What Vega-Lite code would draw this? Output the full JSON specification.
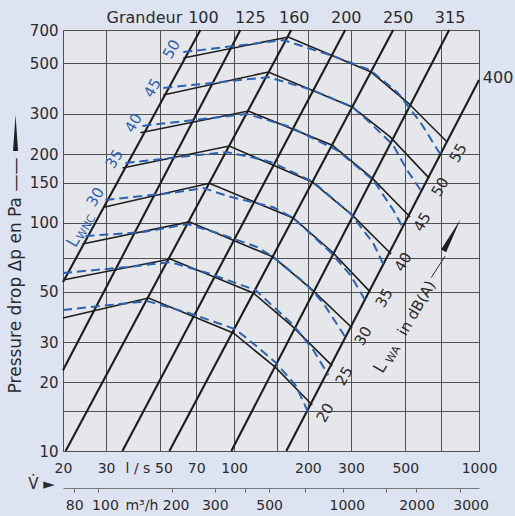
{
  "$schema": "https://vega.github.io/schema/vega-lite/v6.json",
  "width": 416,
  "height": 421,
  "autosize": {"type": "none"},
  "padding": {"left": 63, "top": 30, "right": 36, "bottom": 65},
  "background": "#dee3f2",
  "config": {
    "view": {"fill": "#e6e7eb", "stroke": "#555555", "strokeWidth": 1},
    "font": "DejaVu Sans"
  },
  "datasets": {
    "sizes": [
      {"g": "100", "V": 20, "dp": 55.0}, {"g": "100", "V": 72.8, "dp": 700},
      {"g": "125", "V": 20, "dp": 22.6}, {"g": "125", "V": 106.0, "dp": 700},
      {"g": "160", "V": 20.5, "dp": 10}, {"g": "160", "V": 171.1, "dp": 700},
      {"g": "200", "V": 34.97, "dp": 10}, {"g": "200", "V": 284.2, "dp": 700},
      {"g": "250", "V": 54.4, "dp": 10}, {"g": "250", "V": 446.1, "dp": 700},
      {"g": "315", "V": 97.4, "dp": 10}, {"g": "315", "V": 755.2, "dp": 700},
      {"g": "400", "V": 163.3, "dp": 10}, {"g": "400", "V": 1000, "dp": 422.5}
    ],
    "lwa": [
      {"c": 55, "V": 62.0, "dp": 528}, {"c": 55, "V": 166.4, "dp": 652}, {"c": 55, "V": 362.8, "dp": 458}, {"c": 55, "V": 513.6, "dp": 335}, {"c": 55, "V": 741, "dp": 226},
      {"c": 50, "V": 51.4, "dp": 363}, {"c": 50, "V": 137.9, "dp": 458}, {"c": 50, "V": 303.6, "dp": 322}, {"c": 50, "V": 433.8, "dp": 238}, {"c": 50, "V": 625.6, "dp": 157},
      {"c": 45, "V": 41.4, "dp": 248}, {"c": 45, "V": 114.2, "dp": 309}, {"c": 45, "V": 251.6, "dp": 219}, {"c": 45, "V": 366.2, "dp": 157}, {"c": 45, "V": 523.4, "dp": 106},
      {"c": 40, "V": 35.0, "dp": 174}, {"c": 40, "V": 95.5, "dp": 217}, {"c": 40, "V": 208.4, "dp": 151}, {"c": 40, "V": 303.6, "dp": 108}, {"c": 40, "V": 437.8, "dp": 73},
      {"c": 35, "V": 29.3, "dp": 117}, {"c": 35, "V": 79.2, "dp": 149}, {"c": 35, "V": 174.3, "dp": 105}, {"c": 35, "V": 251.6, "dp": 74.5}, {"c": 35, "V": 359.4, "dp": 49.8},
      {"c": 30, "V": 24.0, "dp": 80.8}, {"c": 30, "V": 65.6, "dp": 101}, {"c": 30, "V": 144.5, "dp": 70.8}, {"c": 30, "V": 208.4, "dp": 50.8}, {"c": 30, "V": 303.6, "dp": 34.6},
      {"c": 25, "V": 20, "dp": 56.2}, {"c": 25, "V": 54.9, "dp": 69.4}, {"c": 25, "V": 119.7, "dp": 49.3}, {"c": 25, "V": 174.3, "dp": 34.9}, {"c": 25, "V": 251.6, "dp": 23.6},
      {"c": 20, "V": 20, "dp": 38.3}, {"c": 20, "V": 44.7, "dp": 46.8}, {"c": 20, "V": 99.2, "dp": 32.9}, {"c": 20, "V": 147.2, "dp": 23.3}, {"c": 20, "V": 208.4, "dp": 15.9}
    ],
    "lwnc": [
      {"c": 50, "V": 62.0, "dp": 560}, {"c": 50, "V": 158.8, "dp": 632}, {"c": 50, "V": 254, "dp": 538}, {"c": 50, "V": 359.4, "dp": 467}, {"c": 50, "V": 463.3, "dp": 374}, {"c": 50, "V": 575, "dp": 277}, {"c": 50, "V": 707, "dp": 194},
      {"c": 45, "V": 51.4, "dp": 390}, {"c": 45, "V": 137.9, "dp": 435}, {"c": 45, "V": 208.4, "dp": 382}, {"c": 45, "V": 303.6, "dp": 322}, {"c": 45, "V": 349.4, "dp": 282}, {"c": 45, "V": 446.1, "dp": 219}, {"c": 45, "V": 508.8, "dp": 170}, {"c": 45, "V": 585.8, "dp": 136},
      {"c": 40, "V": 42.2, "dp": 266}, {"c": 40, "V": 68.1, "dp": 282}, {"c": 40, "V": 113.1, "dp": 300}, {"c": 40, "V": 169.5, "dp": 263}, {"c": 40, "V": 263.6, "dp": 208}, {"c": 40, "V": 369.7, "dp": 154}, {"c": 40, "V": 446.1, "dp": 114}, {"c": 40, "V": 490, "dp": 94.9},
      {"c": 35, "V": 36.0, "dp": 183}, {"c": 35, "V": 64.4, "dp": 196}, {"c": 35, "V": 93.8, "dp": 204}, {"c": 35, "V": 127.9, "dp": 190}, {"c": 35, "V": 144.5, "dp": 183}, {"c": 35, "V": 210.5, "dp": 151}, {"c": 35, "V": 297.9, "dp": 110}, {"c": 35, "V": 369.7, "dp": 81.6}, {"c": 35, "V": 410, "dp": 64.7},
      {"c": 30, "V": 29.8, "dp": 126}, {"c": 30, "V": 54.9, "dp": 135}, {"c": 30, "V": 74.9, "dp": 142}, {"c": 30, "V": 96.5, "dp": 130}, {"c": 30, "V": 144.5, "dp": 117}, {"c": 30, "V": 174.3, "dp": 105}, {"c": 30, "V": 246.9, "dp": 74.5}, {"c": 30, "V": 297.9, "dp": 59.1}, {"c": 30, "V": 346.2, "dp": 45.0},
      {"c": 25, "V": 24.7, "dp": 87.5}, {"c": 25, "V": 42.6, "dp": 91.1}, {"c": 25, "V": 64.4, "dp": 98.8}, {"c": 25, "V": 85.4, "dp": 90.2}, {"c": 25, "V": 124.3, "dp": 78.3}, {"c": 25, "V": 144.5, "dp": 70.8}, {"c": 25, "V": 198.9, "dp": 53.4}, {"c": 25, "V": 231.1, "dp": 44.5}, {"c": 25, "V": 284.2, "dp": 31.6},
      {"c": 20, "V": 20, "dp": 60.3}, {"c": 20, "V": 36.7, "dp": 64.0}, {"c": 20, "V": 54.9, "dp": 67.3}, {"c": 20, "V": 77.7, "dp": 60.3}, {"c": 20, "V": 122, "dp": 50.8}, {"c": 20, "V": 174.3, "dp": 35.7}, {"c": 20, "V": 210.5, "dp": 27.7}, {"c": 20, "V": 242.4, "dp": 21.5},
      {"c": 15, "V": 20, "dp": 41.5}, {"c": 15, "V": 44.2, "dp": 45.4}, {"c": 15, "V": 67.5, "dp": 39.8}, {"c": 15, "V": 101.1, "dp": 34.2}, {"c": 15, "V": 122, "dp": 29.1}, {"c": 15, "V": 147.2, "dp": 24.5}, {"c": 15, "V": 177.7, "dp": 19.5}, {"c": 15, "V": 200.7, "dp": 14.8}
    ],
    "toplabels": [
      {"t": "Grandeur", "V": 43.0, "dp": 793}, {"t": "100", "V": 74.9, "dp": 793}, {"t": "125", "V": 116.4, "dp": 793},
      {"t": "160", "V": 176, "dp": 793}, {"t": "200", "V": 287, "dp": 793}, {"t": "250", "V": 467.6, "dp": 793},
      {"t": "315", "V": 762, "dp": 793}, {"t": "400", "V": 1196, "dp": 431}
    ],
    "lab15": [
      {"t": "55", "k": "lwa", "V": 821.6, "dp": 202.2}, {"t": "50", "k": "lwa", "V": 693.8, "dp": 143.5},
      {"t": "45", "k": "lwa", "V": 586, "dp": 100.8}, {"t": "40", "k": "lwa", "V": 490, "dp": 67.3},
      {"t": "35", "k": "lwa", "V": 410, "dp": 46.8}, {"t": "30", "k": "lwa", "V": 336.6, "dp": 31.9},
      {"t": "25", "k": "lwa", "V": 281.5, "dp": 21.3}, {"t": "20", "k": "lwa", "V": 235.6, "dp": 14.7},
      {"t": "in dB(A)", "k": "lwa", "V": 556, "dp": 42.3},
      {"t": "50", "k": "lwnc", "V": 55.4, "dp": 577}, {"t": "45", "k": "lwnc", "V": 46.4, "dp": 390},
      {"t": "40", "k": "lwnc", "V": 38.8, "dp": 273.7}, {"t": "35", "k": "lwnc", "V": 32.4, "dp": 190.4},
      {"t": "30", "k": "lwnc", "V": 27.1, "dp": 129.7}
    ],
    "labL": [
      {"t": "L", "k": "lwa", "V": 396, "dp": 23.2},
      {"t": "L", "k": "lwnc", "V": 22.07, "dp": 82.4}
    ],
    "labSub": [
      {"t": "WA", "k": "lwa", "V": 448, "dp": 26.4},
      {"t": "WNC", "k": "lwnc", "V": 24.96, "dp": 95.5}
    ],
    "arrowline": [{"V": 638, "dp": 57.5}, {"V": 727.2, "dp": 71.5}],
    "wedgeLwa": [{"V": 776.4, "dp": 88.4}],
    "wedgeDp": [{"V": 12.8, "dp": 247.5}]
  },
  "encoding": {
    "x": {"field": "V", "type": "quantitative", "scale": {"type": "log", "domain": [20, 1000]}, "axis": null},
    "y": {"field": "dp", "type": "quantitative", "scale": {"type": "log", "domain": [10, 700]}, "axis": null}
  },
  "layer": [
    {
      "data": {"name": "sizes"},
      "mark": {"type": "line", "stroke": "#1c1c1c", "strokeWidth": 2.1},
      "encoding": {
        "detail": {"field": "g", "type": "nominal"},
        "x": {"field": "V", "type": "quantitative", "scale": {"type": "log", "domain": [20, 1000]},
          "axis": {"orient": "bottom", "grid": true, "values": [20, 30, 50, 70, 100, 150, 200, 300, 500, 700, 1000],
            "labels": false, "ticks": false, "tickSize": 0, "domain": false, "gridColor": "#505050", "gridWidth": 1, "gridOpacity": 1, "title": null}},
        "y": {"field": "dp", "type": "quantitative", "scale": {"type": "log", "domain": [10, 700]},
          "axis": {"orient": "left", "grid": true, "values": [10, 15, 20, 30, 50, 70, 100, 150, 200, 300, 500, 700],
            "labels": false, "ticks": false, "tickSize": 0, "domain": false, "gridColor": "#505050", "gridWidth": 1, "gridOpacity": 1, "title": null}}
      }
    },
    {
      "data": {"name": "lwa"},
      "mark": {"type": "line", "stroke": "#1e1e1e", "strokeWidth": 1.6},
      "encoding": {
        "detail": {"field": "c", "type": "nominal"},
        "x": {"field": "V", "type": "quantitative", "scale": {"type": "log", "domain": [20, 1000]},
          "axis": {"orient": "bottom", "grid": false, "values": [20, 30, 40.3, 50, 70, 100, 200, 300, 500, 1000],
            "labelExpr": "datum.value > 40 && datum.value < 41 ? 'l / s' : format(datum.value, 'd')",
            "labelOffset": {"condition": {"test": "datum.value == 50", "value": 3}, "value": 0},
            "ticks": false, "tickSize": 0, "domain": false, "labelPadding": 10, "labelFontSize": 14,
            "labelColor": "#2b2b2b", "labelFlush": false, "labelOverlap": false, "labelBound": false, "title": null}},
        "y": {"field": "dp", "type": "quantitative", "scale": {"type": "log", "domain": [10, 700]},
          "axis": {"orient": "left", "grid": false, "values": [10, 15, 20, 30, 50, 70, 100, 150, 200, 300, 500, 700],
            "labelExpr": "datum.value == 15 || datum.value == 70 ? '' : format(datum.value, 'd')",
            "ticks": false, "tickSize": 0, "domain": false, "labelPadding": 5, "labelFontSize": 15,
            "labelColor": "#2b2b2b", "labelOverlap": false, "labelBound": false,
            "title": "Pressure drop Δp en Pa ——", "titleFontSize": 17, "titleFontWeight": "normal", "titleColor": "#2b2b2b",
            "titleAngle": -90, "titleX": -48, "titleY": 245, "titleAlign": "center", "titleBaseline": "middle"}}
      }
    },
    {
      "data": {"name": "lwnc"},
      "mark": {"type": "line", "stroke": "#2a62b6", "strokeWidth": 2, "strokeDash": [9, 5]},
      "encoding": {
        "detail": {"field": "c", "type": "nominal"},
        "x": {"field": "V", "type": "quantitative", "scale": {"type": "log", "domain": [20, 1000]},
          "axis": {"orient": "bottom", "offset": 37, "grid": false,
            "values": [22.222, 27.778, 41.8, 55.556, 83.333, 111.111, 138.889, 194.444, 277.778, 416.667, 555.556, 833.333],
            "labelExpr": "datum.value > 41 && datum.value < 42.5 ? 'm³/h' : (indexof([400, 700, 1500], round(datum.value * 3.6)) >= 0 ? '' : format(round(datum.value * 3.6), 'd'))",
            "labelOffset": {"condition": [
              {"test": "datum.value > 27 && datum.value < 28", "value": 7},
              {"test": "datum.value > 41 && datum.value < 42.5", "value": 0},
              {"test": "datum.value > 55 && datum.value < 56", "value": 4},
              {"test": "datum.value > 277 && datum.value < 278", "value": 4},
              {"test": "datum.value > 833 && datum.value < 834", "value": 11}
            ], "value": 0},
            "ticks": true, "tickSize": 4, "tickColor": "#666666",
            "tickOpacity": {"condition": {"test": "datum.value > 41 && datum.value < 42.5", "value": 0}, "value": 1},
            "domain": true, "domainColor": "#777777", "labelPadding": 6, "labelFontSize": 14,
            "labelColor": "#2b2b2b", "labelFlush": false, "labelOverlap": false, "labelBound": false,
            "title": "V̇ ►", "titleFontSize": 15, "titleFontWeight": "normal", "titleColor": "#2b2b2b",
            "titleX": -22, "titleY": -5, "titleAlign": "center", "titleBaseline": "middle"}}
      }
    },
    {
      "data": {"name": "toplabels"},
      "mark": {"type": "text", "fontSize": 16, "color": "#2b2b2b", "align": "center", "baseline": "middle"},
      "encoding": {"text": {"field": "t"}}
    },
    {
      "data": {"name": "lab15"},
      "mark": {"type": "text", "fontSize": 15, "angle": -60, "align": "center", "baseline": "middle"},
      "encoding": {
        "text": {"field": "t"},
        "color": {"field": "k", "type": "nominal", "scale": {"domain": ["lwa", "lwnc"], "range": ["#2b2b2b", "#2a62b6"]}, "legend": null}
      }
    },
    {
      "data": {"name": "labL"},
      "mark": {"type": "text", "fontSize": 17, "angle": -60, "align": "center", "baseline": "middle"},
      "encoding": {
        "text": {"field": "t"},
        "color": {"field": "k", "type": "nominal", "scale": {"domain": ["lwa", "lwnc"], "range": ["#2b2b2b", "#2a62b6"]}, "legend": null}
      }
    },
    {
      "data": {"name": "labSub"},
      "mark": {"type": "text", "fontSize": 11, "angle": -60, "align": "center", "baseline": "middle"},
      "encoding": {
        "text": {"field": "t"},
        "color": {"field": "k", "type": "nominal", "scale": {"domain": ["lwa", "lwnc"], "range": ["#2b2b2b", "#2a62b6"]}, "legend": null}
      }
    },
    {
      "data": {"name": "arrowline"},
      "mark": {"type": "line", "stroke": "#2b2b2b", "strokeWidth": 1},
      "encoding": {}
    },
    {
      "data": {"name": "wedgeLwa"},
      "mark": {"type": "point", "shape": "M-0.16,1L0.16,1L0,-1Z", "filled": true, "color": "#1e1e1e", "size": 1300, "angle": 28, "opacity": 1},
      "encoding": {}
    },
    {
      "data": {"name": "wedgeDp"},
      "mark": {"type": "point", "shape": "M-0.14,1L0.14,1L0,-1Z", "filled": true, "color": "#1e1e1e", "size": 1300, "angle": 0, "opacity": 1},
      "encoding": {}
    }
  ],
  "resolve": {"axis": {"x": "independent", "y": "independent"}}
}
